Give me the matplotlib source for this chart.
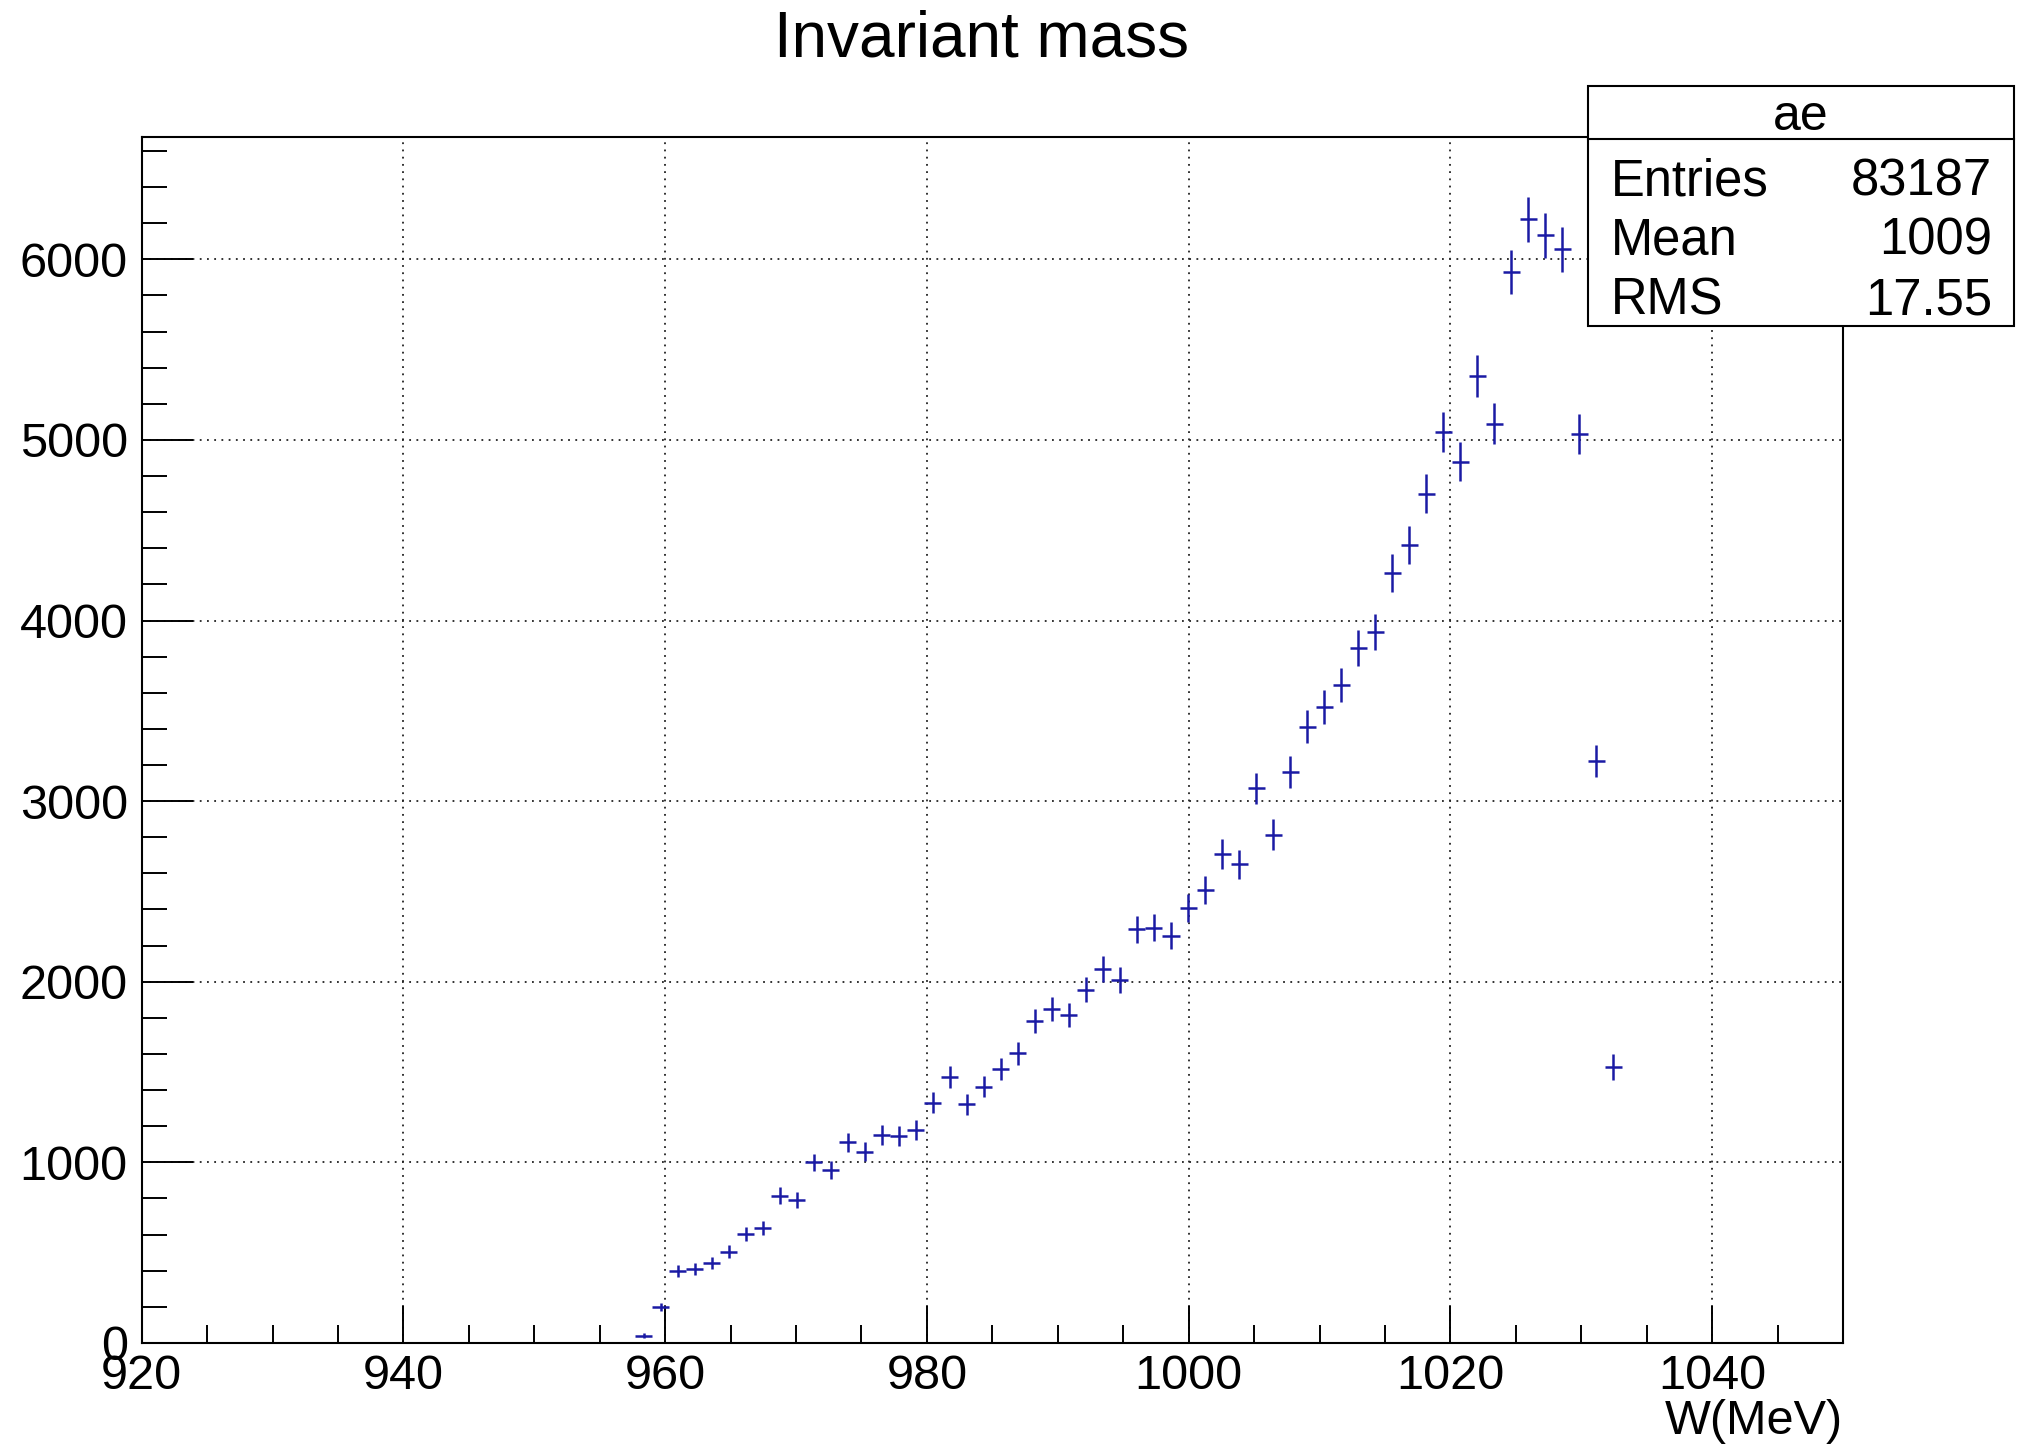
import numpy as np
import matplotlib
matplotlib.use("Agg")
from matplotlib import pyplot as plt
from matplotlib.patches import Rectangle
from matplotlib.lines import Line2D
from matplotlib.ticker import MultipleLocator

plt.rcParams['font.family'] = ['Liberation Sans', 'DejaVu Sans']

# histogram definition: 100 bins from 920 to 1050 MeV
n_bins = 100
x_lo, x_hi = 920, 1050
first_bin = 29

# bin contents (bins 29..86)
contents = [40, 200, 397, 408, 440, 505, 602, 637, 815, 791,
            1000, 957, 1110, 1059, 1150, 1146, 1179, 1330, 1475, 1321,
            1419, 1517, 1604, 1782, 1848, 1815, 1955, 2070, 2009, 2290,
            2299, 2255, 2408, 2508, 2706, 2651, 3070, 2815, 3163, 3413,
            3523, 3642, 3848, 3936, 4263, 4418, 4703, 5044, 4880, 5354,
            5090, 5932, 6221, 6133, 6055, 5033, 3221, 1525]
# bin errors
errors = [13, 22, 32, 32, 33, 36, 39, 40, 47, 44,
          48, 49, 53, 51, 54, 54, 54, 58, 61, 57,
          60, 62, 63, 67, 68, 67, 70, 72, 71, 76,
          76, 75, 78, 79, 82, 81, 88, 84, 89, 92,
          94, 95, 98, 99, 103, 105, 108, 112, 110, 116,
          113, 122, 125, 124, 123, 112, 90, 72]

title = "Invariant mass"
x_title = "W(MeV)"
stats_name = "ae"
stats_rows = [("Entries", "83187"), ("Mean", "1009"), ("RMS", "17.55")]

edges = np.linspace(x_lo, x_hi, n_bins + 1)
centers = 0.5 * (edges[:-1] + edges[1:])
bw = edges[1] - edges[0]
xc = centers[first_bin:first_bin + len(contents)]

fig = plt.figure(figsize=(20.18, 14.51), dpi=100)
ax = fig.add_axes([0.0702, 0.0745, 0.9133 - 0.0702, 0.9059 - 0.0745])

col = '#1a1aa4'
ax.errorbar(xc, contents, xerr=bw / 2, yerr=errors, fmt='none',
            ecolor=col, elinewidth=1.8, capsize=0, zorder=3)

ax.set_xlim(x_lo, x_hi)
ax.set_ylim(0, 6680)

ax.xaxis.set_major_locator(MultipleLocator(20))
ax.xaxis.set_minor_locator(MultipleLocator(5))
ax.yaxis.set_major_locator(MultipleLocator(1000))
ax.yaxis.set_minor_locator(MultipleLocator(200))

ax.tick_params(axis='both', which='both', direction='in', top=False, right=False,
               width=1.4, color='black')
ax.tick_params(axis='x', which='major', length=27, pad=8, labelsize=35)
ax.tick_params(axis='x', which='minor', length=13)
ax.tick_params(axis='y', which='major', length=37, pad=10, labelsize=35)
ax.tick_params(axis='y', which='minor', length=18)

ax.grid(True, which='major', linestyle=(0, (1, 3)), color='#222222', linewidth=1.3)
for s in ax.spines.values():
    s.set_linewidth(1.5)

fig.text(0.4866, 0.973, title, ha='center', va='center', fontsize=46)
fig.text(0.9133, 0.0205, x_title, ha='right', va='center', fontsize=35)

# stats box
bx0, bx1 = 0.787, 0.998
by0, by1 = 0.7755, 0.9405
ysep = 0.9042
fig.add_artist(Rectangle((bx0, by0), bx1 - bx0, by1 - by0, transform=fig.transFigure,
                         facecolor='white', edgecolor='black', linewidth=1.5, zorder=10))
fig.add_artist(Line2D([bx0, bx1], [ysep, ysep], transform=fig.transFigure,
                      color='black', linewidth=1.5, zorder=11))
fig.text((bx0 + bx1) / 2, (ysep + by1) / 2 - 0.003, stats_name, ha='center', va='center',
         fontsize=36, zorder=12)
row_y = [1 - 141 / 1127, 1 - 187 / 1127, 1 - 234 / 1127]
for (name, val), yy in zip(stats_rows, row_y):
    fig.text(1252 / 1568, yy, name, ha='left', va='center', fontsize=36.5, zorder=12)
    fig.text(1548 / 1568, yy, val, ha='right', va='center', fontsize=36.5, zorder=12)

fig.savefig('out.png', dpi=100)
